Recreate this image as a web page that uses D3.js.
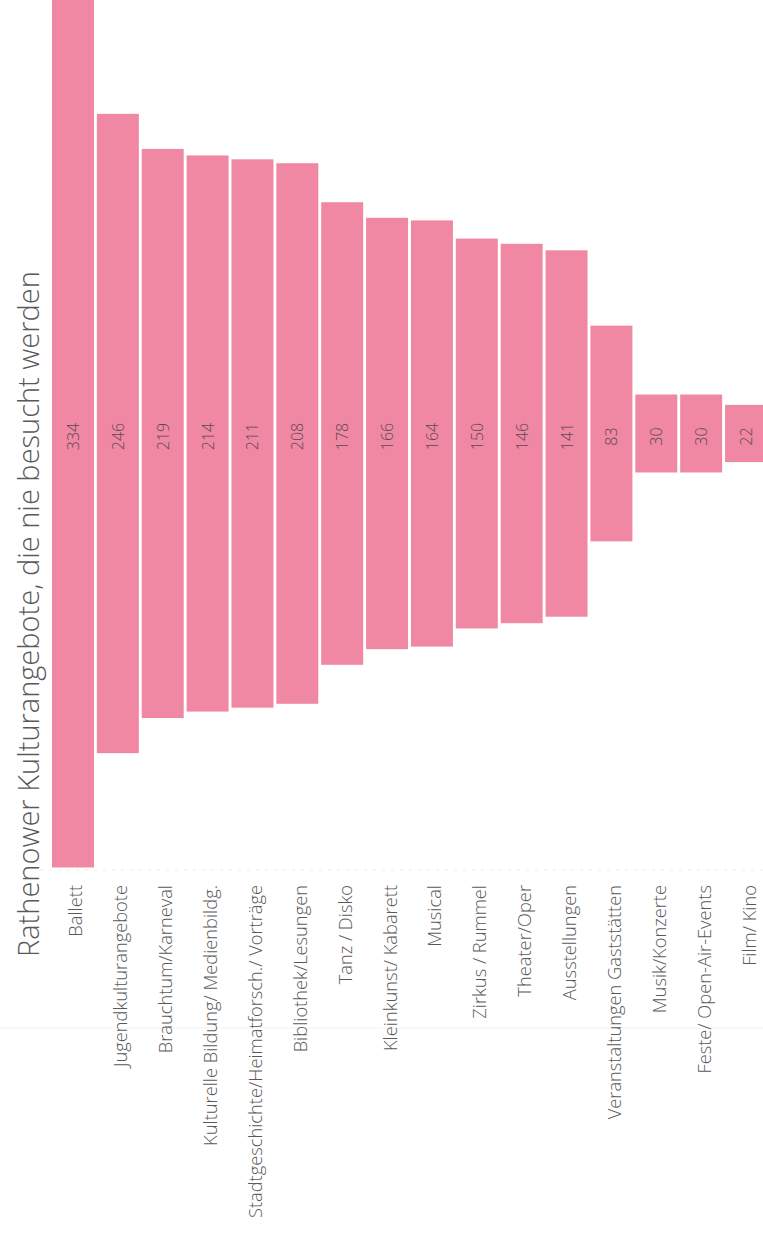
<!DOCTYPE html>
<html>
<head>
<meta charset="utf-8">
<script src="https://cdn.jsdelivr.net/npm/d3@7"></script>
<style>
  html, body { margin: 0; padding: 0; background: #fff; }
  svg { display: block; }
</style>
</head>
<body>
<svg id="chart" width="763" height="1235"></svg>
<script>
const title = "Rathenower Kulturangebote, die nie besucht werden";
const categories = [
  "Ballett",
  "Jugendkulturangebote",
  "Brauchtum/Karneval",
  "Kulturelle Bildung/ Medienbildg.",
  "Stadtgeschichte/Heimatforsch./ Vorträge",
  "Bibliothek/Lesungen",
  "Tanz / Disko",
  "Kleinkunst/ Kabarett",
  "Musical",
  "Zirkus / Rummel",
  "Theater/Oper",
  "Ausstellungen",
  "Veranstaltungen Gaststätten",
  "Musik/Konzerte",
  "Feste/ Open-Air-Events",
  "Film/ Kino"
];
const values = [334, 246, 219, 214, 211, 208, 178, 166, 164, 150, 146, 141, 83, 30, 30, 22];

const svg = d3.select("#chart");
const W = 763, H = 1235;
const step = 44.87;
const x0 = 52;
const x = d3.scaleBand()
  .domain(categories)
  .range([x0, x0 + step * (categories.length - 0.065)])
  .paddingInner(0.065)
  .paddingOuter(0);
const len = d3.scaleLinear().domain([0, 334]).range([0, 868]);
const cy = 433.5;
const barColor = "#f087a3";

// faint baseline under bars
svg.append("line")
  .attr("x1", 40).attr("x2", W)
  .attr("y1", 870).attr("y2", 870)
  .attr("stroke", "#ececec").attr("stroke-width", 1)
  .attr("stroke-dasharray", "3,6");
svg.append("line")
  .attr("x1", 0).attr("x2", W)
  .attr("y1", 1028).attr("y2", 1028)
  .attr("stroke", "#f3f3f3").attr("stroke-width", 1);

svg.append("g").selectAll("rect")
  .data(values)
  .join("rect")
  .attr("x", (d, i) => x(categories[i]))
  .attr("width", x.bandwidth())
  .attr("y", d => cy - len(d) / 2)
  .attr("height", d => len(d))
  .attr("fill", barColor);

// value labels
svg.append("g").selectAll("text")
  .data(values)
  .join("text")
  .attr("transform", (d, i) => `translate(${x(categories[i]) + x.bandwidth() / 2},${cy + 3}) rotate(-90)`)
  .attr("text-anchor", "middle")
  .attr("dominant-baseline", "central")
  .attr("font-family", "Open Sans, sans-serif")
  .attr("font-weight", 300)
  .attr("font-size", 16)
  .attr("fill", "#5a4a50")
  .text(d => d);

// category labels
svg.append("g").selectAll("text")
  .data(categories)
  .join("text")
  .attr("transform", d => `translate(${x(d) + x.bandwidth() / 2 + 2},885) rotate(-90)`)
  .attr("text-anchor", "end")
  .attr("dominant-baseline", "central")
  .attr("font-family", "Open Sans, sans-serif")
  .attr("font-weight", 300)
  .attr("font-size", 18.3)
  .attr("fill", "#595959")
  .text(d => d);

// title
svg.append("text")
  .attr("transform", "translate(27,957) rotate(-90)")
  .attr("text-anchor", "start")
  .attr("dominant-baseline", "central")
  .attr("font-family", "Open Sans, sans-serif")
  .attr("font-weight", 300)
  .attr("font-size", 29)
  .attr("fill", "#595959")
  .text(title);
</script>
</body>
</html>
